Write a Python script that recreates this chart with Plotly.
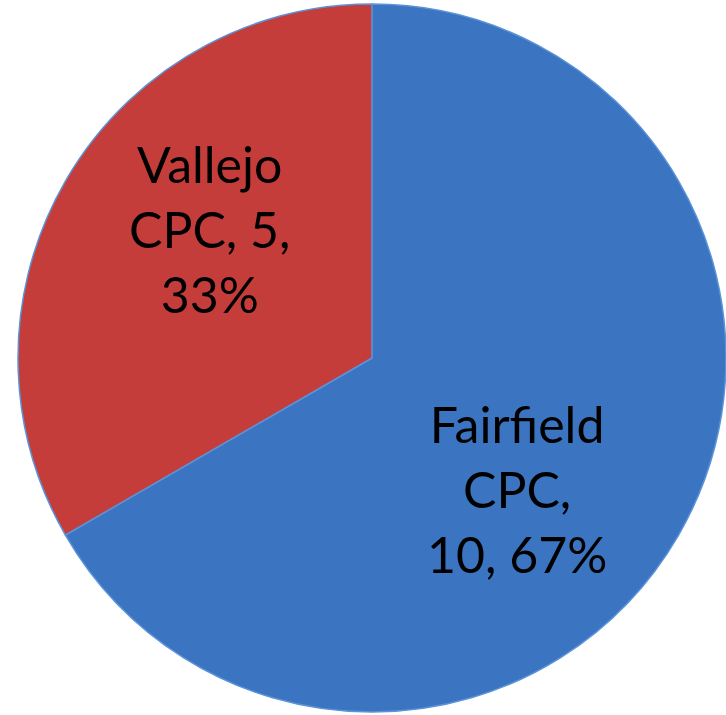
import plotly.graph_objects as go

categories = ["Fairfield CPC", "Vallejo CPC"]
values = [10, 5]
label_lines = ["Fairfield<br>CPC,<br>10, 67%", "Vallejo<br>CPC, 5,<br>33%"]
colors = ["#3B74C1", "#C43D3A"]

# label anchor positions (paper fraction) inside each slice
label_x = [0.712, 0.288]
label_y = [0.316, 0.680]

fig = go.Figure(go.Pie(
    labels=categories,
    values=values,
    textinfo="none",
    sort=False,
    direction="clockwise",
    rotation=0,
    marker=dict(colors=colors, line=dict(color="#5B93D8", width=1.5)),
    showlegend=False,
    hoverinfo="label+value+percent",
    domain=dict(x=[18/726, 1.0], y=[3/715, 711/715]),
))

for txt, x, y in zip(label_lines, label_x, label_y):
    fig.add_annotation(
        text=txt, x=x, y=y, xref="paper", yref="paper",
        xanchor="center", yanchor="middle", showarrow=False,
        font=dict(family="Lato, Carlito, Calibri, sans-serif", size=50, color="black"),
        align="center",
    )

fig.update_layout(
    width=726, height=715,
    margin=dict(l=0, r=0, t=0, b=0),
    paper_bgcolor="white",
    plot_bgcolor="white",
)

fig.write_html("out.html", config={"displayModeBar": False},
               post_script="document.body.style.margin='0';")
